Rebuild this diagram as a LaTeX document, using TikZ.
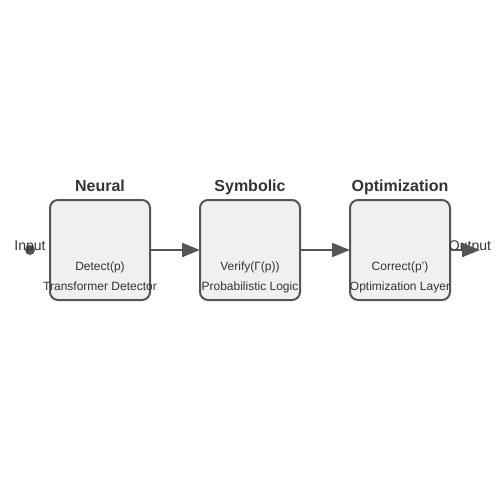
\documentclass[tikz,border=0pt]{standalone}
\usepackage{fontspec}
\setmainfont{Liberation Sans}
\usetikzlibrary{arrows.meta}
\definecolor{edge}{HTML}{555555}
\definecolor{boxfill}{HTML}{F0F0F0}
\definecolor{ink}{HTML}{333333}
\begin{document}
\begin{tikzpicture}[x=1pt,y=-1pt,
  stage/.style={draw=edge,fill=boxfill,line width=2pt,rounded corners=8pt,minimum width=100pt,minimum height=100pt,inner sep=0pt,outer sep=0pt},
  title/.style={text=ink,font=\fontsize{16}{18}\selectfont\bfseries,inner sep=0pt,anchor=base},
  label/.style={text=ink,font=\fontsize{12}{14}\selectfont,inner sep=0pt,anchor=base},
  port/.style={text=ink,font=\fontsize{14}{16}\selectfont,inner sep=0pt,anchor=base},
  flow/.style={draw=edge,line width=2pt,-{Triangle[length=18pt,width=14pt]}}]
\useasboundingbox (0,0) rectangle (500,500);
% stages
\node [stage] (neural) at (100,250) {};
\node [stage] (symbolic) at (250,250) {};
\node [stage] (optim) at (400,250) {};
\node [title] (neuralT) at (100,191) {Neural};
\node [title] (symbolicT) at (250,191) {Symbolic};
\node [title] (optimT) at (400,191) {Optimization};
\node [label] (neuralA) at (100,270.5) {Detect(p)};
\node [label] (neuralB) at (100,290.5) {Transformer Detector};
\node [label] (symbolicA) at (250,270.5) {Verify(Γ(p))};
\node [label] (symbolicB) at (250,290.5) {Probabilistic Logic};
\node [label] (optimA) at (400,270.5) {Correct(p')};
\node [label] (optimB) at (400,290.5) {Optimization Layer};
% ends
\fill [edge] (30,250) circle (5);
\node [port] (input) at (30,250) {Input};
\coordinate (out) at (480,250);
\node [port] (output) at (470,250) {Output};
% arrows
\draw [flow] (neural) -- (symbolic);
\draw [flow] (symbolic) -- (optim);
\draw [flow] (optim) -- (out);
\end{tikzpicture}
\end{document}
